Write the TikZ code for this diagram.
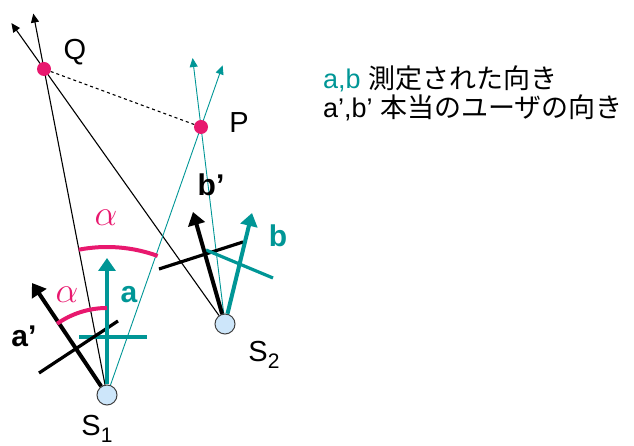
\documentclass[tikz,border=0pt]{standalone}
\usepackage{graphicx}
\usepackage{fontspec}
\setmainfont{Liberation Sans}
\newfontfamily\jpfont{Noto Sans CJK JP}
\usetikzlibrary{arrows.meta,calc}
\definecolor{measured}{RGB}{0,150,150}
\definecolor{angmark}{RGB}{232,24,110}
\definecolor{sensor}{RGB}{205,230,250}
\newcommand{\sensorname}[1]{S\raisebox{-7pt}{\fontsize{21}{22}\selectfont #1}}
\newcommand{\angsym}{\scalebox{1.45}{$\alpha$}}
\begin{document}
\begin{tikzpicture}[x=1pt, y=1pt,
    thinarrow/.style={-{Triangle[length=9pt,width=8pt]}, line width=1.1pt},
    thickarrow/.style={-{Triangle[length=13pt,width=17pt]}, line width=4pt},
    bar/.style={line width=3.2pt},
    sensornode/.style={circle, draw=black!75, fill=sensor, line width=1pt, minimum size=20pt, inner sep=0pt},
    dot/.style={circle, fill=angmark, minimum size=14pt, inner sep=0pt},
    lbl/.style={font=\fontsize{29}{31}\selectfont},
    leg/.style={anchor=west, inner sep=0pt, font=\fontsize{27}{30}\selectfont},
    vlbl/.style={font=\fontsize{30}{32}\selectfont\bfseries},
    alabel/.style={text=angmark, font=\fontsize{24}{26}\selectfont}]
    \useasboundingbox (0,0) rectangle (634,446);

    \node[sensornode] (s1) at (107,51) {};
    \node[sensornode] (s2) at (225,122) {};
    \coordinate (qc) at (44,377);
    \coordinate (pc) at (201,319);

    \coordinate (qtip1) at ($(s1)!1.17!(qc)$);
    \coordinate (qtip2) at ($(s2)!1.18!(qc)$);
    \coordinate (ptip1) at ($(s1)!1.23!(pc)$);
    \coordinate (ptip2) at ($(s2)!1.35!(pc)$);

    % lines of sight
    \draw[thinarrow] (s1) -- (qtip1);
    \draw[thinarrow] (s2) -- (qtip2);
    \draw[thinarrow, measured, line width=0.9pt] (s1) -- (ptip1);
    \draw[thinarrow, measured, line width=0.9pt] (s2) -- (ptip2);
    \node[dot] (q) at (qc) {};
    \node[dot] (p) at (pc) {};
    \draw[dashed, line width=1.1pt] (q) -- (p);

    % user at S1
    \coordinate (a) at (107,188);
    \coordinate (atrue) at (32,163);
    \draw[bar, measured] (79,109) -- (147,109);
    \draw[bar] (39,73) -- (118,125);
    \draw[thickarrow, measured] (s1) -- (a);
    \draw[thickarrow] (s1) -- (atrue);
    \node[vlbl, text=measured] (alab) at (129,151) {a};
    \node[vlbl] (atruelab) at (24,110) {a'};

    % user at S2
    \coordinate (b) at (252,233);
    \coordinate (btrue) at (193,234);
    \draw[bar] (159,177) -- (243,204);
    \draw[bar, measured] (206,196) -- (273,168);
    \draw[thickarrow] (s2) -- (btrue);
    \draw[thickarrow, measured] (s2) -- (b);
    \node[vlbl, text=measured] (blab) at (278,210) {b};
    \node[vlbl] (btruelab) at (211,261) {b'};

    % angles
    \draw[angmark, line width=4pt] (s1.center) ++(90:87pt) arc[start angle=90, end angle=125, radius=87pt];
    \draw[angmark, line width=4pt] (s1.center) ++(70:148pt) arc[start angle=70, end angle=101, radius=148pt];
    \node[alabel] (al1) at (67,151) {\angsym};
    \node[alabel] (al2) at (106,228) {\angsym};

    \node[lbl] (qlab) at (75,394) {Q};
    \node[lbl] (plab) at (239,323) {P};
    \node[lbl] (s1lab) at (97,17) {\sensorname{1}};
    \node[lbl] (s2lab) at (264,91) {\sensorname{2}};

    % legend
    \node[leg] (leg1) at (323,367)
        {\textcolor{measured}{a,b} {\jpfont 測定された向き}};
    \node[leg] (leg2) at (323,338)
        {a',b' {\jpfont 本当のユーザの向き}};
\end{tikzpicture}
\end{document}
